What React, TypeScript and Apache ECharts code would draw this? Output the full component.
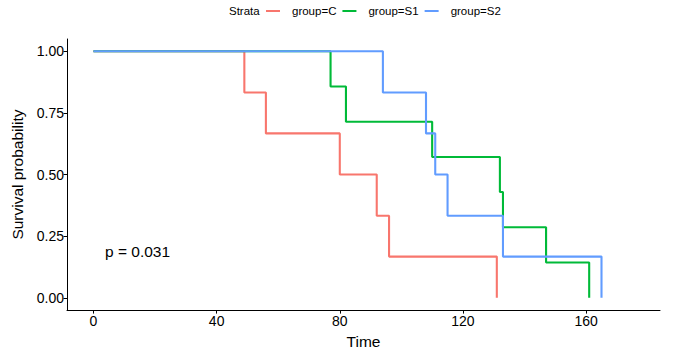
import React, { useEffect, useRef } from "react";
import * as echarts from "echarts";

const groups = ["group=C", "group=S1", "group=S2"];
const colors = ["#F8766D", "#00BA38", "#619CFF"];
const timeC = [0, 49, 56, 80, 92, 96, 131];
const survC = [1, 0.833, 0.667, 0.5, 0.333, 0.167, 0];
const timeS1 = [0, 77, 82, 110, 132, 133, 147, 161];
const survS1 = [1, 0.857, 0.714, 0.571, 0.429, 0.286, 0.143, 0];
const timeS2 = [0, 94, 108, 111, 115, 133, 165];
const survS2 = [1, 0.833, 0.667, 0.5, 0.333, 0.167, 0];
const xTicks = [0, 40, 80, 120, 160];
const yTicks = [0, 0.25, 0.5, 0.75, 1];
const pValueText = "p = 0.031";

const FONT = "Liberation Sans, Arial, sans-serif";

export default function App() {
  const ref = useRef<HTMLDivElement>(null);
  useEffect(() => {
    document.body.style.margin = "0";
    if (!ref.current) return;
    const chart = echarts.init(ref.current, undefined, { renderer: "svg" });
    const times = [timeC, timeS1, timeS2];
    const survs = [survC, survS1, survS2];
    chart.setOption({
      animation: false,
      textStyle: { fontFamily: FONT },
      grid: { left: 67, right: 17, top: 39, bottom: 43, containLabel: false },
      legend: {
        data: groups,
        left: 266,
        top: 5,
        padding: 0,
        itemWidth: 14,
        itemHeight: 2,
        itemGap: 6,
        icon: "rect",
        textStyle: { fontSize: 11.5, color: "#000", fontFamily: FONT, padding: [0, 0, 0, 7] },
      },
      graphic: [
        {
          type: "text",
          left: 229,
          top: 5,
          style: { text: "Strata", fontSize: 11.5, fill: "#000", fontFamily: FONT },
        },
        {
          type: "text",
          x: 105,
          y: 251,
          style: {
            text: pValueText,
            fontSize: 15.5,
            fill: "#000",
            fontFamily: FONT,
            verticalAlign: "middle",
          },
        },
      ],
      xAxis: {
        type: "value",
        min: -8.6,
        max: 184,
        name: "Time",
        nameLocation: "middle",
        nameGap: 21,
        nameTextStyle: { fontSize: 15.5, color: "#000", fontFamily: FONT },
        splitLine: { show: false },
        axisLine: { show: true, onZero: false, lineStyle: { color: "#000", width: 1 } },
        axisTick: { show: true, customValues: xTicks, length: 3.5, lineStyle: { color: "#000" } },
        axisLabel: { customValues: xTicks, fontSize: 14, color: "#000", margin: 4, fontFamily: FONT },
      },
      yAxis: {
        type: "value",
        min: -0.05,
        max: 1.05,
        name: "Survival probability",
        nameLocation: "middle",
        nameGap: 35,
        nameTextStyle: { fontSize: 15.5, color: "#000", fontFamily: FONT },
        splitLine: { show: false },
        axisLine: { show: true, onZero: false, lineStyle: { color: "#000", width: 1 } },
        axisTick: { show: true, customValues: yTicks, length: 3.5, lineStyle: { color: "#000" } },
        axisLabel: {
          customValues: yTicks,
          fontSize: 14,
          color: "#000",
          margin: 3,
          fontFamily: FONT,
          formatter: (v: number) => v.toFixed(2),
        },
      },
      series: groups.map((g, i) => ({
        name: g,
        type: "line",
        step: "end",
        showSymbol: false,
        symbol: "none",
        color: colors[i],
        lineStyle: { width: 2.1, color: colors[i] },
        data: times[i].map((t, j) => [t, survs[i][j]]),
      })),
    });
    return () => chart.dispose();
  }, []);
  return <div ref={ref} style={{ width: 677, height: 354 }} />;
}
